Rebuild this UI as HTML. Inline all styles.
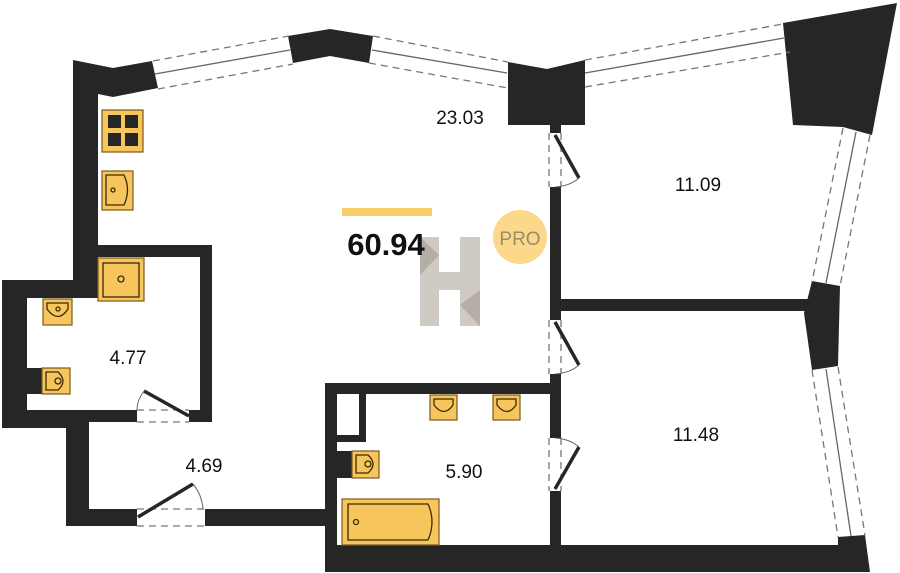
<!DOCTYPE html>
<html><head><meta charset="utf-8"><style>
html,body{margin:0;padding:0;background:#fff;}
svg{display:block}
text{font-family:"Liberation Sans",sans-serif;}
</style></head><body>
<svg width="900" height="573" viewBox="0 0 900 573" xmlns="http://www.w3.org/2000/svg">
<g fill="#262626">
<polygon points="73,60 113,68 152,61 158,88 113,97 98,94 98,245 212,245 212,422 189,422 189,410 200,410 200,257 98,257 98,280 73,280"/>
<rect x="2" y="280" width="96" height="18"/>
<rect x="2" y="280" width="25" height="148"/>
<rect x="27" y="410" width="110" height="12"/>
<rect x="2" y="410" width="87" height="18"/>
<rect x="66" y="410" width="23" height="116"/>
<rect x="66" y="509" width="71" height="17"/>
<rect x="205" y="509" width="120" height="17"/>
<polygon points="288,36 330,29 373,36 369,63 330,56 293,63"/>
<polygon points="508,62 547,69 585,60 585,125 508,125"/>
<polygon points="783,23 897,3 872,135 843,127 793,125"/>
<polygon points="812,281 840,286 838,366 812,370 804,313"/>
<rect x="550" y="125" width="11" height="8"/>
<rect x="550" y="187" width="11" height="133"/>
<rect x="561" y="299" width="247" height="12"/>
<rect x="550" y="374" width="11" height="64"/>
<rect x="550" y="491" width="11" height="56"/>
<rect x="325" y="383" width="236" height="11"/>
<rect x="325" y="383" width="12" height="165"/>
<rect x="359" y="394" width="7" height="48"/>
<rect x="337" y="435" width="29" height="7"/>
<polygon points="325,545 838,545 838,537 865,535 870,572 325,572"/>
<rect x="27" y="368" width="15" height="26"/>
<rect x="337" y="451" width="15" height="27"/>
</g>
<g stroke="#666" stroke-width="1.3" fill="none">
<line x1="155" y1="74" x2="290" y2="50"/>
<line x1="372" y1="50" x2="507" y2="73"/>
<line x1="585" y1="73" x2="784" y2="38"/>
<line x1="856" y1="132" x2="826" y2="283"/>
<line x1="826" y1="369" x2="851" y2="536"/>
</g>
<g stroke="#777" stroke-width="1.3" fill="none" stroke-dasharray="7,5">
<line x1="153" y1="61" x2="289" y2="36"/><line x1="158" y1="89" x2="293" y2="64"/>
<line x1="373" y1="36" x2="508" y2="62"/><line x1="369" y1="63" x2="508" y2="88"/>
<line x1="585" y1="60" x2="783" y2="24"/><line x1="585" y1="87" x2="790" y2="52"/>
<line x1="843" y1="128" x2="812" y2="282"/><line x1="870" y1="135" x2="840" y2="286"/>
<line x1="812" y1="370" x2="838" y2="537"/><line x1="838" y1="367" x2="865" y2="535"/>
<line x1="549" y1="133" x2="549" y2="187"/><line x1="561" y1="133" x2="561" y2="187"/>
<line x1="549" y1="320" x2="549" y2="374"/><line x1="561" y1="320" x2="561" y2="374"/>
<line x1="549" y1="438" x2="549" y2="491"/><line x1="561" y1="438" x2="561" y2="491"/>
<line x1="137" y1="410" x2="189" y2="410"/><line x1="137" y1="422" x2="189" y2="422"/>
<line x1="137" y1="509" x2="205" y2="509"/><line x1="137" y1="526" x2="205" y2="526"/>
</g>
<g stroke="#262626" stroke-width="3.5">
<line x1="555" y1="135" x2="579" y2="178"/>
<line x1="555" y1="322" x2="579" y2="365"/>
<line x1="555" y1="489" x2="579" y2="447"/>
<line x1="189" y1="416" x2="144" y2="391"/>
<line x1="138" y1="517" x2="193" y2="484"/>
</g>
<g stroke="#666" stroke-width="1" fill="none">
<path d="M579,178 Q570,186 555,187"/>
<path d="M579,365 Q570,373 555,374"/>
<path d="M579,447 Q570,439 555,438"/>
<path d="M144,391 Q137,400 137,410"/>
<path d="M193,484 Q202,495 203,509"/>
</g>
<g fill="#f6c65c" stroke="#7a5a1a" stroke-width="1.2">
<rect x="102" y="110" width="41" height="42"/>
<rect x="102" y="171" width="31" height="39"/>
<rect x="98" y="258" width="46" height="43"/>
<rect x="43" y="299" width="29" height="26"/>
<rect x="42" y="368" width="28" height="26"/>
<rect x="352" y="451" width="27" height="27"/>
<rect x="342" y="499" width="97" height="46"/>
<rect x="430" y="395" width="27" height="25"/>
<rect x="493" y="395" width="27" height="25"/>
</g>
<g fill="#262626">
<rect x="108" y="115" width="13" height="13"/><rect x="125" y="115" width="13" height="13"/>
<rect x="108" y="133" width="13" height="13"/><rect x="125" y="133" width="13" height="13"/>
</g>
<g fill="none" stroke="#3a2a0a" stroke-width="1.3">
<path d="M106,175 h18 q7,15 0,30 h-18 z"/>
<rect x="103" y="263" width="36" height="34"/>
<path d="M47,303 h21 v6 q-10,15 -21,0 z"/>
<path d="M46,372 h12 q10,9 0,18 h-12 z"/>
<path d="M356,455 h12 q10,9 0,18 h-12 z"/>
<path d="M348,504 h80 q8,18 0,36 h-80 z"/>
<path d="M434,399 h19 v6 q-9,13 -19,0 z"/>
<path d="M497,399 h19 v6 q-9,13 -19,0 z"/>
<circle cx="113" cy="190" r="2"/><circle cx="121" cy="279" r="3"/><circle cx="58" cy="309" r="2"/>
<circle cx="58" cy="381" r="3"/><circle cx="368" cy="464" r="3"/><circle cx="356" cy="522" r="2.5"/>
</g>
<rect x="342" y="208" width="90" height="8" fill="#f6cd68"/>
<g fill="#cfcac4">
<rect x="420" y="237" width="19" height="89"/>
<rect x="460" y="237" width="20" height="89"/>
<rect x="439" y="272" width="21" height="18"/>
</g>
<g fill="#b4aea6"><polygon points="420,237 439,255 420,275"/><polygon points="480,290 460,305 480,326"/></g>
<circle cx="520" cy="237" r="27" fill="#fbd88a"/>
<text x="520" y="245" font-size="19" fill="#9a8c6a" text-anchor="middle">PRO</text>
<text x="386" y="255" font-size="31" font-weight="bold" fill="#111" text-anchor="middle">60.94</text>
<g font-size="19" fill="#111" text-anchor="middle">
<text x="460" y="124">23.03</text>
<text x="698" y="191">11.09</text>
<text x="128" y="364">4.77</text>
<text x="204" y="472">4.69</text>
<text x="464" y="478">5.90</text>
<text x="696" y="441">11.48</text>
</g>
</svg>
</body></html>
